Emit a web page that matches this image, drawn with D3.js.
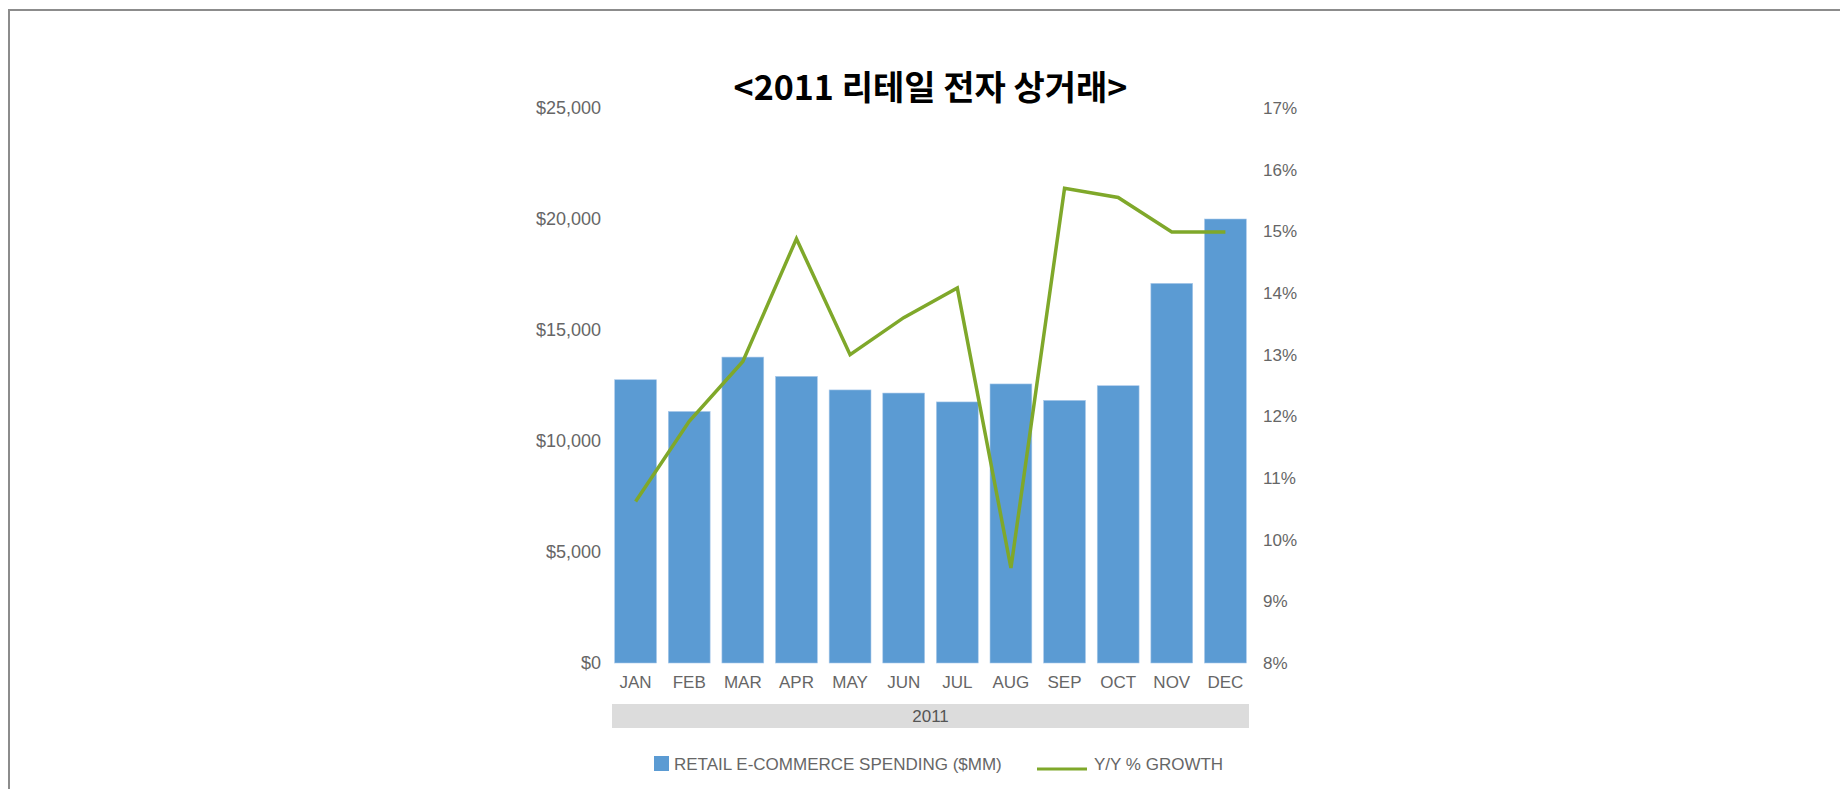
<!DOCTYPE html>
<html>
<head>
<meta charset="utf-8">
<script src="https://cdn.jsdelivr.net/npm/d3@7"></script>
<style>
  html, body { margin: 0; padding: 0; background: #fff; }
  .chart text { font-family: "Liberation Sans", Arial, sans-serif; }
</style>
</head>
<body>
<div class="chart"></div>
<script>
// Data
var months = ["JAN", "FEB", "MAR", "APR", "MAY", "JUN", "JUL", "AUG", "SEP", "OCT", "NOV", "DEC"];
var spending = [12760, 11330, 13780, 12910, 12300, 12160, 11760, 12570, 11830, 12490, 17100, 20000];
var growth = [10.62, 11.92, 12.89, 14.88, 13.0, 13.6, 14.08, 9.54, 15.7, 15.55, 14.99, 14.99];
var leftTicks = [0, 5000, 10000, 15000, 20000, 25000];
var rightTicks = [8, 9, 10, 11, 12, 13, 14, 15, 16, 17];
var yearLabel = "2011";
var titleText = "<2011 리테일 전자 상거래>";
var legendLabels = ["RETAIL E-COMMERCE SPENDING ($MM)", "Y/Y % GROWTH"];

(function(){
    var width = 1840, height = 789;
    var plot = { left: 612, right: 1249, top: 108, bottom: 663 };
    var barColor = "#5b9bd3", lineColor = "#7fa82a", axisColor = "#666";

    var svg = d3.select(".chart").append("svg")
                .attr("width", width)
                .attr("height", height);

    // page frame (left + top edges only)
    svg.append("path")
       .attr("d", "M9,789 L9,10 L1840,10")
       .attr("fill", "none")
       .attr("stroke", "#8c8c8c")
       .attr("stroke-width", 2);

    var x = d3.scaleBand()
              .domain(months)
              .range([plot.left, plot.right])
              .paddingInner(0.22)
              .paddingOuter(0.05);

    var yLeft = d3.scaleLinear().domain([0, 25000]).range([plot.bottom, plot.top]);
    var yRight = d3.scaleLinear().domain([8, 17]).range([plot.bottom, plot.top]);

    // title
    svg.append("text")
       .attr("x", (plot.left + plot.right) / 2)
       .attr("y", 100)
       .attr("text-anchor", "middle")
       .style("font-family", "'Noto Sans CJK KR', 'Noto Sans', sans-serif")
       .style("font-weight", "bold")
       .style("font-size", "34px")
       .attr("fill", "#000")
       .text(titleText);

    // left axis
    var leftAxis = svg.append("g")
        .attr("transform", "translate(" + 601 + ",0)")
        .call(d3.axisLeft(yLeft).tickValues(leftTicks).tickSize(0).tickPadding(0)
                .tickFormat(function(d){ return "$" + d3.format(",")(d); }));
    leftAxis.select(".domain").remove();
    leftAxis.selectAll("text").attr("fill", axisColor).style("font-size", "18px");

    // right axis
    var rightAxis = svg.append("g")
        .attr("transform", "translate(" + 1263 + ",0)")
        .call(d3.axisRight(yRight).tickValues(rightTicks).tickSize(0).tickPadding(0)
                .tickFormat(function(d){ return d + "%"; }));
    rightAxis.select(".domain").remove();
    rightAxis.selectAll("text").attr("fill", axisColor).style("font-size", "17px");

    // bars
    svg.append("g")
       .selectAll("rect")
       .data(spending)
       .enter()
       .append("rect")
       .attr("x", function(d, i){ return x(months[i]); })
       .attr("y", function(d){ return yLeft(d); })
       .attr("width", x.bandwidth())
       .attr("height", function(d){ return yLeft(0) - yLeft(d); })
       .attr("fill", barColor)
       .attr("stroke", "#a9c9ea")
       .attr("stroke-width", 0.6);

    // growth line
    var line = d3.line()
                 .x(function(d, i){ return x(months[i]) + x.bandwidth() / 2; })
                 .y(function(d){ return yRight(d); });

    svg.append("path")
       .datum(growth)
       .attr("d", line)
       .attr("fill", "none")
       .attr("stroke", lineColor)
       .attr("stroke-width", 3.5)
       .attr("stroke-linejoin", "miter");

    // month labels
    var xAxis = svg.append("g")
        .attr("transform", "translate(0," + 676 + ")")
        .call(d3.axisBottom(x).tickSize(0).tickPadding(0));
    xAxis.select(".domain").remove();
    xAxis.selectAll("text").attr("fill", axisColor).style("font-size", "17px");

    // year band
    svg.append("rect")
       .attr("x", plot.left)
       .attr("y", 704)
       .attr("width", plot.right - plot.left)
       .attr("height", 24)
       .attr("fill", "#dcdcdc");
    svg.append("text")
       .attr("x", (plot.left + plot.right) / 2)
       .attr("y", 722)
       .attr("text-anchor", "middle")
       .attr("fill", "#555")
       .style("font-size", "17px")
       .text(yearLabel);

    // legend
    var legend = svg.append("g").attr("transform", "translate(0,764)");
    legend.append("rect")
          .attr("x", 654).attr("y", -8)
          .attr("width", 15).attr("height", 15)
          .attr("fill", barColor);
    legend.append("text")
          .attr("x", 674).attr("y", 6)
          .attr("fill", axisColor)
          .style("font-size", "17px")
          .text(legendLabels[0]);
    legend.append("line")
          .attr("x1", 1037).attr("x2", 1087)
          .attr("y1", 5).attr("y2", 5)
          .attr("stroke", lineColor)
          .attr("stroke-width", 3);
    legend.append("text")
          .attr("x", 1094).attr("y", 6)
          .attr("fill", axisColor)
          .style("font-size", "17px")
          .text(legendLabels[1]);
})();
</script>
</body>
</html>
